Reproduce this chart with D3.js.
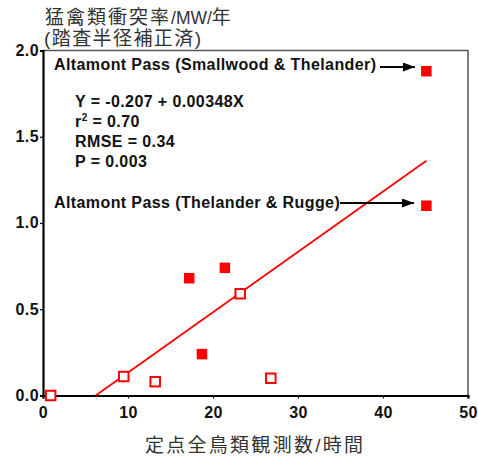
<!DOCTYPE html>
<html><head><meta charset="utf-8">
<script src="https://cdn.jsdelivr.net/npm/d3@7"></script>
<style>body{margin:0;background:#fff}svg{display:block}</style>
</head><body>
<svg id="c" width="478" height="460"></svg>
<script>
const filledX = [45.1, 45.1, 17.2, 21.4, 18.7];
const filledY = [1.88, 1.10, 0.68, 0.74, 0.24];
const openX = [0.9, 9.5, 13.2, 23.2, 26.8];
const openY = [0.0, 0.11, 0.08, 0.59, 0.10];
const fitIntercept = -0.217;
const fitSlope = 0.0350;
const fitRange = [6.2, 45.1];
const xTicks = [0, 10, 20, 30, 40, 50];
const yTicks = [0.0, 0.5, 1.0, 1.5, 2.0];
const statLines = ["Y = -0.207 + 0.00348X", "r2 = 0.70", "RMSE = 0.34", "P = 0.003"];

const svg = d3.select("#c");
const x = d3.scaleLinear().domain([0, 50]).range([43, 468]);
const y = d3.scaleLinear().domain([0, 2]).range([395.5, 50.5]);
const red = "#ff0000";
const bold = "'Liberation Sans', Arial, sans-serif";
const cjk = "'Liberation Sans', 'Noto Sans CJK JP', sans-serif";

// frame top/right
svg.append("path").attr("d", `M${x(0)},${y(2)}H${x(50)}V${y(0)}`)
  .attr("fill", "none").attr("stroke", "#555").attr("stroke-width", 1.5);

// axes
const xa = svg.append("g").attr("transform", `translate(0,${y(0)})`)
  .call(d3.axisBottom(x).tickValues(xTicks).tickFormat(d3.format("d")).tickSize(3).tickPadding(8));
const ya = svg.append("g").attr("transform", `translate(${x(0)},0)`)
  .call(d3.axisLeft(y).tickValues(yTicks).tickFormat(d3.format(".1f")).tickSize(3).tickPadding(1));
[xa, ya].forEach(g => {
  g.select(".domain").attr("stroke", "#000").attr("stroke-width", 2.2);
  g.selectAll(".tick line").attr("stroke", "#000").attr("stroke-width", 1.2);
  g.selectAll("text").attr("font-family", bold).attr("font-weight", "bold")
    .attr("font-size", 16).attr("letter-spacing", 0.4).attr("fill", "#111");
});
ya.selectAll(".tick text").attr("dy", "0.3em");

// fit line
svg.append("line")
  .attr("x1", x(fitRange[0])).attr("y1", y(fitIntercept + fitSlope * fitRange[0]))
  .attr("x2", x(fitRange[1])).attr("y2", y(fitIntercept + fitSlope * fitRange[1]))
  .attr("stroke", red).attr("stroke-width", 1.8);

// points
const s = 10.5;
svg.selectAll(".f").data(filledX.map((d, i) => [d, filledY[i]])).join("rect")
  .attr("x", d => x(d[0]) - s / 2).attr("y", d => y(d[1]) - s / 2)
  .attr("width", s).attr("height", s).attr("fill", red);
const so = 9.5;
svg.selectAll(".o").data(openX.map((d, i) => [d, openY[i]])).join("rect")
  .attr("x", d => x(d[0]) - so / 2).attr("y", d => y(d[1]) - so / 2)
  .attr("width", so).attr("height", so).attr("fill", "#fff")
  .attr("stroke", red).attr("stroke-width", 2);

// labels
function label(txt, px, py) {
  svg.append("text").attr("x", px).attr("y", py).text(txt)
    .attr("font-family", bold).attr("font-weight", "bold").attr("font-size", 16)
    .attr("letter-spacing", 0.4).attr("fill", "#111");
}
label("Altamont Pass (Smallwood & Thelander)", 54, 70);
label("Altamont Pass (Thelander & Rugge)", 54, 208);

// arrows
svg.append("defs").append("marker").attr("id", "ah").attr("viewBox", "0 0 12 9")
  .attr("refX", 12).attr("refY", 4.5).attr("markerWidth", 6).attr("markerHeight", 4.5)
  .attr("markerUnits", "strokeWidth").attr("orient", "auto")
  .append("path").attr("d", "M0,0L12,4.5L0,9Z").attr("fill", "#000");
function arrow(x1, x2, yy) {
  svg.append("line").attr("x1", x1).attr("x2", x2).attr("y1", yy).attr("y2", yy)
    .attr("stroke", "#000").attr("stroke-width", 2).attr("marker-end", "url(#ah)");
}
arrow(380, 415, 67);
arrow(340, 414, 203);

// stats
const st = svg.append("g");
statLines.forEach((t, i) => {
  const tx = st.append("text").attr("x", 75).attr("y", 107 + i * 20)
    .attr("font-family", bold).attr("font-weight", "bold").attr("font-size", 16)
    .attr("letter-spacing", 0.4).attr("fill", "#111");
  if (t.startsWith("r2")) {
    tx.append("tspan").text("r");
    tx.append("tspan").text("2").attr("font-size", 10).attr("dy", -6);
    tx.append("tspan").text(" = 0.70").attr("dy", 6);
  } else tx.text(t);
});

// axis titles
const t1 = svg.append("text").attr("x", 45).attr("y", 24)
  .attr("font-family", cjk).attr("font-size", 19).attr("fill", "#333");
t1.append("tspan").text("猛禽類衝突率").attr("letter-spacing", 2);
t1.append("tspan").text("/MW/").attr("font-size", 17.5).attr("letter-spacing", 0);
t1.append("tspan").text("年");
svg.append("text").attr("x", 44).attr("y", 44.5).text("(踏査半径補正済)")
  .attr("font-family", cjk).attr("font-size", 19).attr("fill", "#333")
  .attr("textLength", 157).attr("lengthAdjust", "spacing");
svg.append("text").attr("x", 145).attr("y", 451.5).text("定点全鳥類観測数/時間")
  .attr("font-family", cjk).attr("font-size", 19).attr("fill", "#333")
  .attr("textLength", 218).attr("lengthAdjust", "spacing");
</script>
</body></html>
